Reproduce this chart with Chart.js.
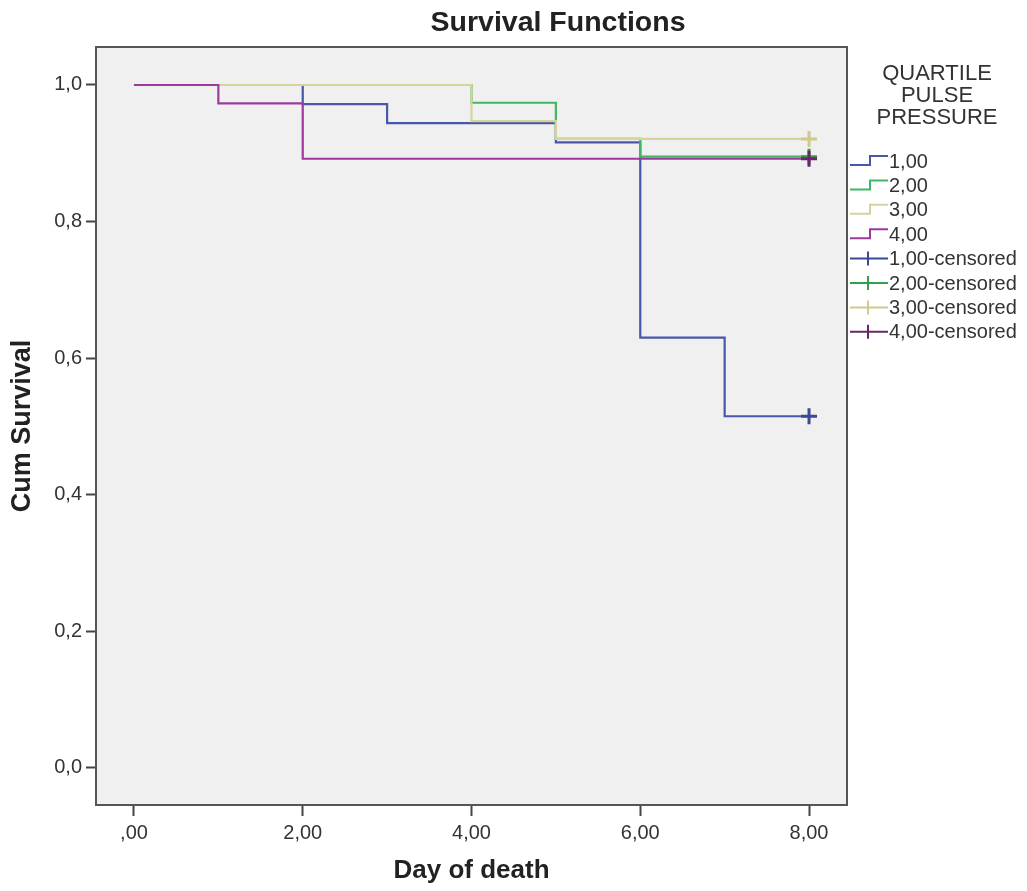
<!DOCTYPE html>
<html>
<head>
<meta charset="utf-8">
<title>Survival Functions</title>
<script src="https://cdn.jsdelivr.net/npm/chart.js@4/dist/chart.umd.min.js"></script>
<style>
  body { margin: 0; background: #fff; }
  #wrap { width: 1027px; height: 891px; }
</style>
</head>
<body>
<div id="wrap"><canvas id="chart" width="1027" height="891"></canvas></div>
<script>
// Kaplan-Meier steps (day, cumulative survival)
const days1 = [0, 2, 3, 5, 6, 7, 8];
const surv1 = [1.0, 0.972, 0.944, 0.916, 0.630, 0.515, 0.515];
const days2 = [0, 4, 5, 6, 8];
const surv2 = [1.0, 0.974, 0.921, 0.895, 0.895];
const days3 = [0, 4, 5, 8];
const surv3 = [1.0, 0.947, 0.921, 0.921];
const days4 = [0, 1, 2, 8];
const surv4 = [1.0, 0.973, 0.892, 0.892];

// censored marks (all at the end of follow-up)
const censDay = 8;
const censSurv = [0.515, 0.895, 0.921, 0.892];

const groupLabels = ['1,00', '2,00', '3,00', '4,00'];
const legendTitle = ['QUARTILE', 'PULSE', 'PRESSURE'];
const xTicks = [0, 2, 4, 6, 8];
const yTicks = [0, 0.2, 0.4, 0.6, 0.8, 1.0];

const colors = ['#4857aa', '#3fb766', '#d8d39c', '#9c3a9e'];
const censColors = ['#3a4898', '#2f9f52', '#cfc98c', '#6e2469'];

const toPts = (xs, ys) => xs.map((x, i) => ({ x: x, y: ys[i] }));
const stepData = [toPts(days1, surv1), toPts(days2, surv2), toPts(days3, surv3), toPts(days4, surv4)];

const datasets = [];
stepData.forEach((pts, i) => {
    datasets.push({
        label: groupLabels[i],
        data: pts,
        showLine: true,
        stepped: true,
        borderColor: colors[i],
        borderWidth: 2.2,
        pointRadius: 0,
        fill: false,
        order: 8 - i
    });
});
censSurv.forEach((v, i) => {
    datasets.push({
        label: groupLabels[i] + '-censored',
        data: [{ x: censDay, y: v }],
        showLine: false,
        pointStyle: 'cross',
        pointRadius: 8,
        borderColor: censColors[i],
        borderWidth: 3,
        order: 4 - i
    });
});

const comma = (v, d) => v.toFixed(d).replace('.', ',');

// background + frame of the plot area, title and the SPSS-style legend
const decor = {
    id: 'decor',
    beforeDatasetsDraw(chart) {
        const { ctx, chartArea: a } = chart;
        ctx.save();
        ctx.fillStyle = '#f0f0f0';
        ctx.fillRect(a.left, a.top, a.right - a.left, a.bottom - a.top);
        ctx.strokeStyle = '#555';
        ctx.lineWidth = 2;
        ctx.strokeRect(a.left, a.top, a.right - a.left, a.bottom - a.top);
        ctx.restore();
    },
    afterDraw(chart) {
        const { ctx } = chart;
        ctx.save();
        ctx.fillStyle = '#222';
        ctx.textAlign = 'center';
        ctx.textBaseline = 'middle';
        ctx.font = 'bold 28.5px "Liberation Sans", Arial, sans-serif';
        ctx.fillText('Survival Functions', 558, 23);

        ctx.font = '22px "Liberation Sans", Arial, sans-serif';
        ctx.fillStyle = '#333';
        legendTitle.forEach((t, i) => ctx.fillText(t, 937, 74 + i * 22));

        ctx.textAlign = 'left';
        ctx.font = '20px "Liberation Sans", Arial, sans-serif';
        const x0 = 850, x1 = 888;
        chart.data.datasets.forEach((ds, i) => {
            const y = 161 + i * 24.4;
            ctx.strokeStyle = ds.borderColor;
            ctx.lineWidth = 2;
            ctx.beginPath();
            if (i < 4) {
                ctx.moveTo(x0, y + 4);
                ctx.lineTo(x0 + 20, y + 4);
                ctx.lineTo(x0 + 20, y - 5);
                ctx.lineTo(x1, y - 5);
            } else {
                ctx.moveTo(x0, y);
                ctx.lineTo(x1, y);
                ctx.moveTo(x0 + 18, y - 7);
                ctx.lineTo(x0 + 18, y + 7);
            }
            ctx.stroke();
            ctx.fillStyle = '#333';
            ctx.fillText(ds.label, 889, y + 1);
        });
        ctx.restore();
    }
};

new Chart(document.getElementById('chart'), {
    type: 'scatter',
    data: { datasets: datasets },
    options: {
        responsive: false,
        animation: false,
        layout: { padding: { top: 47, right: 180, left: 0, bottom: 0 } },
        plugins: {
            legend: { display: false },
            title: { display: false },
            tooltip: { enabled: false }
        },
        scales: {
            x: {
                type: 'linear',
                min: -0.45,
                max: 8.45,
                afterBuildTicks: s => { s.ticks = xTicks.map(v => ({ value: v })); },
                afterFit: s => { s.height = 86; },
                grid: { drawOnChartArea: false, drawTicks: true, tickLength: 11, tickWidth: 2, tickColor: '#444' },
                border: { display: false },
                ticks: {
                    padding: 5,
                    color: '#333',
                    font: { family: '"Liberation Sans", Arial, sans-serif', size: 20 },
                    callback: v => v === 0 ? ',00' : comma(v, 2)
                },
                title: {
                    display: true,
                    text: 'Day of death',
                    color: '#222',
                    padding: { top: 0, bottom: 5 },
                    font: { family: '"Liberation Sans", Arial, sans-serif', size: 26, weight: 'bold' }
                }
            },
            y: {
                type: 'linear',
                min: -0.0542,
                max: 1.0556,
                afterBuildTicks: s => { s.ticks = yTicks.map(v => ({ value: v })); },
                afterFit: s => { s.width = 96; },
                grid: { drawOnChartArea: false, drawTicks: true, tickLength: 10, tickWidth: 2, tickColor: '#444' },
                border: { display: false },
                ticks: {
                    padding: 4,
                    color: '#333',
                    font: { family: '"Liberation Sans", Arial, sans-serif', size: 20 },
                    callback: v => comma(v, 1)
                },
                title: {
                    display: true,
                    text: 'Cum Survival',
                    color: '#222',
                    padding: { top: 6, bottom: 0 },
                    font: { family: '"Liberation Sans", Arial, sans-serif', size: 27, weight: 'bold' }
                }
            }
        }
    },
    plugins: [decor]
});
</script>
</body>
</html>
